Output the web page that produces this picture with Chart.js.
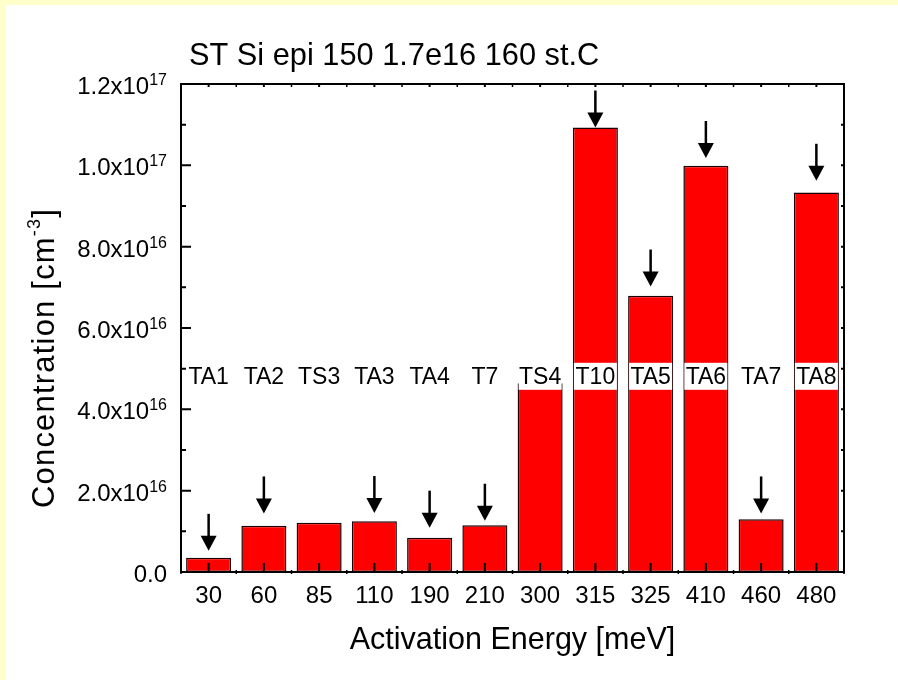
<!DOCTYPE html>
<html>
<head>
<meta charset="utf-8">
<script src="https://cdn.jsdelivr.net/npm/chart.js@4"></script>
<style>
  body { margin: 0; background: #ffffff; }
  canvas { display: block; }
</style>
</head>
<body>
<canvas id="chart" width="898" height="680"></canvas>
<script>
// activation energies (meV) on the x axis
const energies = ["30", "60", "85", "110", "190", "210", "300", "315", "325", "410", "460", "480"];
// trap names written over the bars
const trapNames = ["TA1", "TA2", "TS3", "TA3", "TA4", "T7", "TS4", "T10", "TA5", "TA6", "TA7", "TA8"];
// concentration in cm^-3
const concentrations = [3.5e15, 1.14e16, 1.21e16, 1.25e16, 8.4e15, 1.15e16, 4.64e16, 1.093e17, 6.79e16, 9.99e16, 1.30e16, 9.33e16];
// where the arrow tips point (cm^-3), null = no arrow
const arrowTips = [5.2e15, 1.44e16, null, 1.45e16, 1.09e16, 1.26e16, null, 1.093e17, 7.02e16, 1.018e17, 1.44e16, 9.62e16];
// y axis tick labels
const yTickValues = [0, 2e16, 4e16, 6e16, 8e16, 1e17, 1.2e17];
const yTickMantissa = ["0.0", "2.0x10", "4.0x10", "6.0x10", "8.0x10", "1.0x10", "1.2x10"];
const yTickExp = ["", "16", "16", "16", "16", "17", "17"];

const chartTitle = "ST Si epi 150 1.7e16 160 st.C";
const xTitle = "Activation Energy [meV]";

const FONT = '"Liberation Sans", Arial, sans-serif';
const labelLevel = 4.8e16;

function draw_decorations(chart) {
  const ctx = chart.ctx;
  const xs = chart.scales.x;
  const ys = chart.scales.y;
  const area = chart.chartArea;
  const step = xs.getPixelForValue(1) - xs.getPixelForValue(0);

  ctx.save();

  // labels with white boxes
  const meta = chart.getDatasetMeta(0);
  const ly = ys.getPixelForValue(labelLevel);
  ctx.font = "23px " + FONT;
  ctx.textAlign = "center";
  ctx.textBaseline = "middle";
  trapNames.forEach(function(name, i) {
    const bar = meta.data[i];
    const w = bar.width - 2;
    ctx.fillStyle = "#ffffff";
    ctx.fillRect(bar.x - w / 2, ly - 14, w, 27);
    ctx.fillStyle = "#000000";
    ctx.fillText(name, bar.x, ly + 1);
  });

  // arrows
  ctx.fillStyle = "#000000";
  ctx.strokeStyle = "#000000";
  arrowTips.forEach(function(v, i) {
    if (v === null) return;
    const x = xs.getPixelForValue(i);
    const tip = ys.getPixelForValue(v);
    ctx.lineWidth = 2.5;
    ctx.beginPath();
    ctx.moveTo(x, tip - 37);
    ctx.lineTo(x, tip - 10);
    ctx.stroke();
    ctx.beginPath();
    ctx.moveTo(x - 8, tip - 15);
    ctx.lineTo(x + 8, tip - 15);
    ctx.lineTo(x, tip);
    ctx.closePath();
    ctx.fill();
  });

  // frame
  ctx.strokeStyle = "#000000";
  ctx.lineWidth = 2;
  ctx.strokeRect(area.left, area.top, area.right - area.left, area.bottom - area.top);

  // x ticks
  ctx.lineWidth = 2;
  for (let i = 0; i < energies.length; i++) {
    const x = xs.getPixelForValue(i);
    ctx.beginPath();
    ctx.moveTo(x, area.bottom);
    ctx.lineTo(x, area.bottom - 9);
    ctx.moveTo(x, area.top);
    ctx.lineTo(x, area.top + 3);
    ctx.stroke();
  }
  ctx.lineWidth = 1.5;
  for (let i = 0; i <= energies.length; i++) {
    const x = xs.getPixelForValue(i) - step / 2;
    ctx.beginPath();
    ctx.moveTo(x, area.bottom + 2);
    ctx.lineTo(x, area.bottom - 2);
    ctx.moveTo(x, area.top);
    ctx.lineTo(x, area.top + 3);
    ctx.stroke();
  }

  // y ticks
  for (let v = 0; v <= 1.2e17 + 1; v += 1e16) {
    const y = ys.getPixelForValue(v);
    const major = Math.round(v / 1e16) % 2 === 0;
    ctx.lineWidth = 2;
    ctx.beginPath();
    ctx.moveTo(area.left, y);
    ctx.lineTo(area.left + (major ? 10 : 5), y);
    ctx.moveTo(area.right, y);
    ctx.lineTo(area.right - 3, y);
    ctx.stroke();
  }

  // x tick labels
  ctx.fillStyle = "#000000";
  ctx.font = "24px " + FONT;
  ctx.textAlign = "center";
  ctx.textBaseline = "alphabetic";
  energies.forEach(function(e, i) {
    ctx.fillText(e, xs.getPixelForValue(i), area.bottom + 31);
  });

  // y tick labels with exponents
  yTickValues.forEach(function(v, i) {
    const y = ys.getPixelForValue(v);
    const right = area.left - 14;
    ctx.font = "16px " + FONT;
    ctx.textAlign = "right";
    const ew = ctx.measureText(yTickExp[i]).width;
    ctx.fillText(yTickExp[i], right, y + 1);
    ctx.font = "24px " + FONT;
    ctx.fillText(yTickMantissa[i], right - ew, y + 10);
  });

  // title
  ctx.font = "30.75px " + FONT;
  ctx.textAlign = "left";
  ctx.fillText(chartTitle, 189, 65);

  // x title
  ctx.font = "30.5px " + FONT;
  ctx.textAlign = "center";
  ctx.fillText(xTitle, (area.left + area.right) / 2, 649);

  // y title, rotated
  ctx.translate(54, 358);
  ctx.rotate(-Math.PI / 2);
  ctx.letterSpacing = "1.2px";
  const partA = "Concentration [cm";
  const partB = "-3";
  const partC = "]";
  ctx.font = "31px " + FONT;
  const wa = ctx.measureText(partA).width;
  const wc = ctx.measureText(partC).width;
  ctx.font = "18px " + FONT;
  const wb = ctx.measureText(partB).width;
  const total = wa + wb + wc;
  let x0 = -total / 2;
  ctx.textAlign = "left";
  ctx.font = "31px " + FONT;
  ctx.fillText(partA, x0, 0);
  ctx.font = "18px " + FONT;
  ctx.fillText(partB, x0 + wa, -14);
  ctx.font = "31px " + FONT;
  ctx.fillText(partC, x0 + wa + wb, 0);

  ctx.restore();
}

const decorations = {
  id: "decorations",
  beforeDraw: function(chart) {
    const ctx = chart.ctx;
    ctx.save();
    ctx.fillStyle = "#ffffcc";
    ctx.fillRect(0, 0, chart.width, chart.height);
    ctx.fillStyle = "#ffffff";
    ctx.fillRect(6, 5, chart.width - 6, chart.height - 5);
    ctx.restore();
  },
  afterDatasetsDraw: function(chart) {
    draw_decorations(chart);
  }
};

let canvas = document.querySelector("#chart");
let bar_chart = new Chart(canvas, {
  type: "bar",
  data: {
    labels: energies,
    datasets: [{
      data: concentrations,
      backgroundColor: "#ff0000",
      borderColor: "#1a0000",
      borderWidth: 1.5,
      borderSkipped: false,
      barPercentage: 0.815,
      categoryPercentage: 1.0,
    }]
  },
  options: {
    responsive: false,
    animation: false,
    layout: {
      padding: { left: 181, top: 84, right: 54, bottom: 108 }
    },
    plugins: {
      legend: { display: false },
      tooltip: { enabled: false },
    },
    scales: {
      x: { display: false },
      y: { display: false, min: 0, max: 1.2e17 },
    }
  },
  plugins: [decorations]
});
</script>
</body>
</html>
